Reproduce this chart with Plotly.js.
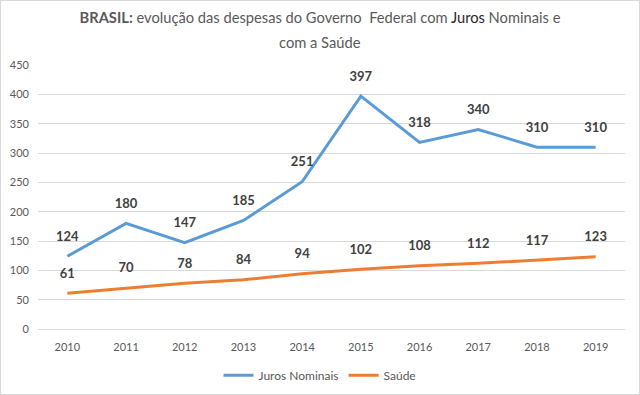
<!DOCTYPE html>
<html><head><meta charset="utf-8">
<script src="https://cdn.plot.ly/plotly-3.0.1.min.js"></script>
<style>
html,body{margin:0;padding:0;background:#fff;}
#wrap{position:relative;width:640px;height:395px;}
#chart{width:640px;height:395px;}
#frame{position:absolute;left:0;top:0;width:638px;height:393px;border:1px solid #d9d9d9;pointer-events:none;}
</style></head>
<body>
<div id="wrap"><div id="chart"></div><div id="frame"></div></div>
<script>
const years = ['2010','2011','2012','2013','2014','2015','2016','2017','2018','2019'];
const juros = [124,180,147,185,251,397,318,340,310,310];
const saude = [61,70,78,84,94,102,108,112,117,123];
const yTicks = [0,50,100,150,200,250,300,350,400,450];

const font = 'Lato, "Open Sans", sans-serif';
function mk(name, ys, color) {
  return {x: years, y: ys, name: name, type: 'scatter', mode: 'lines+markers+text',
   line: {color: color, width: 3}, marker: {size: 18, color: 'rgba(0,0,0,0)'},
   text: ys.map(String), textposition: 'top center',
   textfont: {family: font, size: 13, color: '#404040', weight: 'bold'}, cliponaxis: false};
}
const traces = [mk('Juros Nominais', juros, '#5B9BD5'), mk('Saúde', saude, '#ED7D31')];
const layout = {
  width: 640, height: 395,
  margin: {l: 38, r: 15, t: 65, b: 66, autoexpand: false},
  paper_bgcolor: '#fff', plot_bgcolor: '#fff',
  font: {family: font, color: '#595959', size: 11},
  title: {text: '<b>BRASIL:</b> evolução das despesas do Governo  Federal com <span style="color:#262626">Juros</span> Nominais e',
    x: 0.5, xanchor: 'center', xref: 'container', yref: 'container', y: 1 - 18/395, yanchor: 'middle',
    font: {family: font, size: 14.7, color: '#595959'}},
  annotations: [{text: 'com a Saúde', xref: 'paper', yref: 'paper', showarrow: false,
    x: (320 - 38) / 587, y: 1 + (65 - 42) / 264, xanchor: 'center', yanchor: 'middle',
    font: {family: font, size: 14.7, color: '#595959'}}],
  xaxis: {type: 'category', range: [-0.5, 9.5], showgrid: false, zeroline: false,
    showline: true, linecolor: '#d9d9d9', ticks: '', ticklabelstandoff: 8,
    tickfont: {size: 11, color: '#595959'}},
  yaxis: {range: [0, 450], tickvals: yTicks, ticktext: yTicks.map(String), showgrid: true,
    gridcolor: '#d9d9d9', zeroline: false, showline: false, ticks: '', ticklabelstandoff: 8,
    tickfont: {size: 11, color: '#595959'}},
  showlegend: true,
  legend: {orientation: 'h', x: 0.5, xanchor: 'center', xref: 'container', yref: 'container', y: 0.05, yanchor: 'middle',
    itemwidth: 30, font: {size: 12, color: '#595959'}}
};
Plotly.newPlot('chart', traces, layout, {displayModeBar: false, staticPlot: true});
</script>
</body></html>
